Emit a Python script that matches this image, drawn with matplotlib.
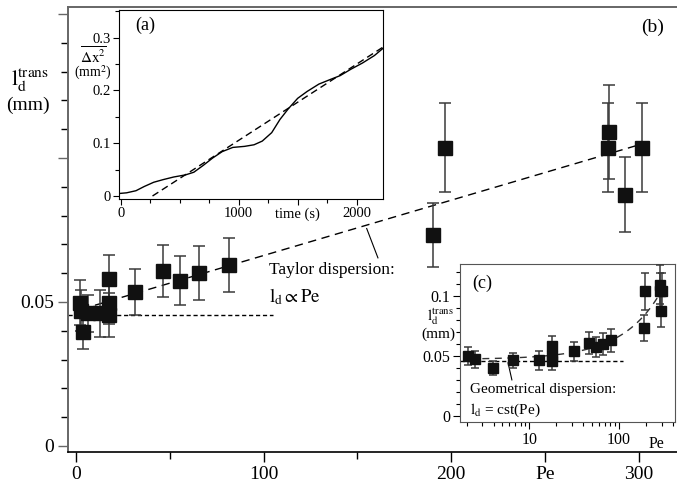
import matplotlib
matplotlib.use('Agg')
import matplotlib.pyplot as plt
from matplotlib.ticker import MultipleLocator, FixedLocator, NullFormatter
import numpy as np

plt.rcParams['font.family'] = ['Liberation Serif', 'DejaVu Serif']
plt.rcParams['mathtext.fontset'] = 'stix'

# transverse dispersion length vs Peclet number
pe = [2.1, 2.5, 3.9, 6.6, 12.8, 17.8, 17.8, 17.8, 31.5, 46.5, 55.5, 65.8, 81.8,
      190.5, 197, 284, 283.5, 293, 302]
ld = [0.0497, 0.047, 0.0396, 0.046, 0.046, 0.058, 0.0497, 0.0455, 0.0535, 0.0607,
      0.0573, 0.060, 0.0628, 0.0733, 0.1035, 0.109, 0.1035, 0.0872, 0.1035]
ld_err = [0.0078, 0.007, 0.006, 0.0065, 0.008, 0.0083, 0.0075, 0.0075, 0.008, 0.009,
          0.0085, 0.0093, 0.0095, 0.011, 0.0155, 0.0163, 0.0155, 0.013, 0.0155]

# fits
taylor_pe = [3, 300]
taylor_ld = [0.0475, 0.1045]
geo_pe_end = 105
geo_ld = 0.0455

# inset (a): mean square displacement vs time
time_s = [0, 50, 130, 200, 280, 360, 450, 550, 620, 700, 780, 860, 950, 1050, 1130,
          1200, 1280, 1350, 1420, 1500, 1580, 1680, 1780, 1860, 1950, 2050, 2150, 2230]
dx2 = [0.005, 0.006, 0.010, 0.018, 0.026, 0.031, 0.036, 0.040, 0.045, 0.058, 0.072,
       0.084, 0.092, 0.094, 0.097, 0.104, 0.120, 0.145, 0.165, 0.185, 0.198, 0.212,
       0.221, 0.228, 0.240, 0.252, 0.266, 0.281]
fit_t = [270, 2230]
fit_dx2 = [0.0, 0.283]

W, H = 677, 486
fig = plt.figure(figsize=(W / 100, H / 100), dpi=100)

mk = dict(fmt='s', color='#111111', ecolor='#3a3a3a', elinewidth=1.1, capthick=1.1)

# ---- main axes (b)
ax = fig.add_axes([68 / W, 1 - 452 / H, 1 - 68 / W, (452 - 7) / H])
ax.errorbar(pe, ld, yerr=ld_err, markersize=9.5, capsize=4, **mk, zorder=3)
ax.plot(taylor_pe, taylor_ld, color='black', lw=1, dashes=(6, 4), zorder=2)
ax.set_xlim(-4.3, 320.5)
ax.set_ylim(-0.0021, 0.1524)
ax.plot([ax.get_xlim()[0], geo_pe_end], [geo_ld, geo_ld], color='black', lw=1,
        dashes=(3, 2), zorder=2)
ax.spines['right'].set_visible(False)
for s in ['left', 'top']:
    ax.spines[s].set_color('#666666')
    ax.spines[s].set_linewidth(1.4)
ax.spines['bottom'].set_linewidth(1.2)
ax.set_xticks([0, 100, 200, 250, 300], labels=['0', '100', '200', 'Pe', '300'])
ax.xaxis.set_minor_locator(FixedLocator([50, 150]))
ax.set_yticks([0, 0.05, 0.1, 0.15], labels=['0', '0.05', '', ''])
ax.yaxis.set_minor_locator(MultipleLocator(0.01))
ax.tick_params(labelsize=14, length=7, width=1, pad=3)
ax.tick_params(which='minor', length=5, width=1)
ax.tick_params(axis='y', colors='#666666', labelcolor='black')
ax.text(0.96, 0.955, '(b)', transform=ax.transAxes, fontsize=14, ha='center', va='center')
ax.text(103, 0.0611, 'Taylor dispersion:', fontsize=12.5, va='center')
ax.text(103, 0.0517, r'$\mathrm{l_d} \propto \mathrm{Pe}$', fontsize=13.5, va='center')
ax.plot([161, 155], [0.0653, 0.0755], color='black', lw=0.8)
fig.text(30 / W, 1 - 80 / H, r'$\mathrm{l_d^{trans}}$', fontsize=16, ha='center', va='center')
fig.text(28 / W, 1 - 105 / H, '(mm)', fontsize=14, ha='center', va='center')

# ---- inset (a)
axa = fig.add_axes([119 / W, 1 - 199 / H, (383 - 119) / W, (199 - 10) / H])
axa.plot(time_s, dx2, color='black', lw=1)
axa.plot(fit_t, fit_dx2, color='black', lw=1, dashes=(5, 3))
axa.set_xlim(-14, 2223)
axa.set_ylim(-0.0057, 0.3523)
axa.set_xticks([0, 1000, 1500, 2000], labels=['0', '1000', 'time (s)', '2000'])
axa.xaxis.set_minor_locator(MultipleLocator(250))
axa.set_yticks([0, 0.1, 0.2, 0.3], labels=['0', '0.1', '0.2', '0.3'])
axa.yaxis.set_minor_locator(MultipleLocator(0.05))
axa.tick_params(labelsize=10.5, length=4, width=0.8, pad=2)
axa.tick_params(which='minor', length=3, width=0.8)
axa.text(0.098, 0.92, '(a)', transform=axa.transAxes, fontsize=13, ha='center', va='center')
fig.text(93 / W, 1 - 55 / H, r'$\overline{\Delta\mathrm{x}^2}$', fontsize=11, ha='center', va='center')
fig.text(93 / W, 1 - 73 / H, '(mm$^2$)', fontsize=10, ha='center', va='center')

# ---- inset (c)
axc = fig.add_axes([460 / W, 1 - 422 / H, (675 - 460) / W, (422 - 264) / H])
axc.errorbar(pe, ld, yerr=ld_err, markersize=7, capsize=3, **mk, zorder=3)
axc.set_xscale('log')
axc.set_xlim(1.69, 421)
axc.set_ylim(-0.0053, 0.1264)
pe_line = np.geomspace(taylor_pe[0], taylor_pe[1], 60)
axc.plot(pe_line, np.interp(pe_line, taylor_pe, taylor_ld), color='#333333', lw=1,
         dashes=(5, 4), zorder=2)
axc.plot([1.69, geo_pe_end + 5], [geo_ld, geo_ld], color='black', lw=1, dashes=(3, 2), zorder=2)
axc.set_xticks([10, 100], labels=['10', '100'])
axc.xaxis.set_minor_formatter(NullFormatter())
axc.set_yticks([0, 0.05, 0.1], labels=['0', '0.05', '0.1'])
axc.yaxis.set_minor_locator(MultipleLocator(0.01))
axc.tick_params(labelsize=11.5, length=5, width=0.8, pad=2)
axc.tick_params(which='minor', length=3, width=0.8)
for s in axc.spines.values():
    s.set_color('#555555')
axc.text(265, -0.0235, 'Pe', fontsize=11.5, ha='center', va='center')
axc.text(0.102, 0.88, '(c)', transform=axc.transAxes, fontsize=13, ha='center', va='center')
axc.text(2.18, 0.0222, 'Geometrical dispersion:', fontsize=11, va='center')
axc.text(2.18, 0.0047, r'$\mathrm{l_d}$ = cst(Pe)', fontsize=11, va='center')
axc.plot([6.4, 5.8], [0.0298, 0.044], color='black', lw=0.8)
fig.text(440 / W, 1 - 317 / H, r'$\mathrm{l_d^{trans}}$', fontsize=11, ha='center', va='center')
fig.text(438 / W, 1 - 334 / H, '(mm)', fontsize=11, ha='center', va='center')

fig.savefig('out.png', dpi=100)
